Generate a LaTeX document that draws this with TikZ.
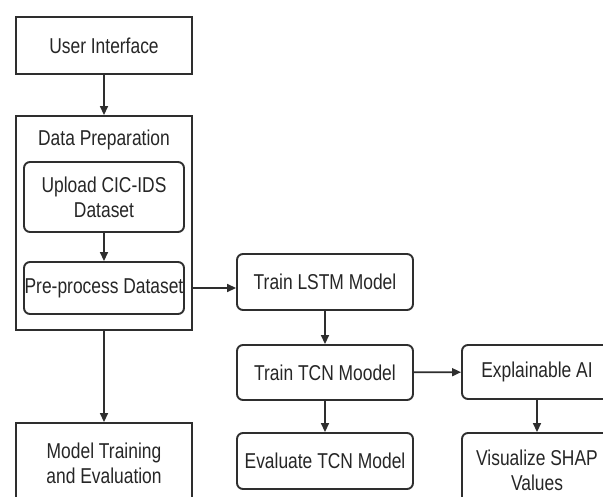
\documentclass[tikz,border=0pt]{standalone}
\usepackage{fontspec}
\setmainfont{Liberation Sans}[FakeStretch=0.81]
\usetikzlibrary{arrows.meta}
\definecolor{ln}{HTML}{2E2E2E}
\definecolor{tx}{HTML}{262626}
\tikzset{
  base/.style={draw=ln, line width=1.9pt, text=tx, align=center, inner sep=0pt,
    font=\fontsize{21.5}{25}\selectfont},
  sqbox/.style={base, rectangle},
  rbox/.style={base, rectangle, rounded corners=6pt},
  conn/.style={draw=ln, line width=1.6pt, -{Triangle[length=9pt,width=8pt]}},
  lbl/.style={text=tx, inner sep=0pt, font=\fontsize{21.5}{25}\selectfont}
}
\begin{document}
\begin{tikzpicture}[x=1pt,y=-1pt]
\useasboundingbox (0,0) rectangle (603,496);
\fill[white] (0,0) rectangle (603,496);
\clip (0,0) rectangle (603,496);
\node[sqbox, minimum width=176pt, minimum height=57pt] (ui) at (104,45.5) {User Interface};
\node[sqbox, minimum width=176pt, minimum height=214pt] (dp) at (104,223) {};
\node[lbl] (dplabel) at (104,140) {Data Preparation};
\node[rbox, minimum width=160pt, minimum height=70pt] (up) at (104,197) {Upload CIC-IDS\\Dataset};
\node[rbox, minimum width=160pt, minimum height=52pt] (pre) at (104,288) {Pre-process Dataset};
\node[sqbox, minimum width=176pt, minimum height=80pt] (mt) at (104,463) {Model Training\\and Evaluation};
\node[rbox, minimum width=176pt, minimum height=56pt] (lstm) at (325,282) {Train LSTM Model};
\node[rbox, minimum width=176pt, minimum height=55pt] (tcn) at (325,372.5) {Train TCN Moodel};
\node[rbox, minimum width=176pt, minimum height=56pt] (eval) at (325,461) {Evaluate TCN Model};
\node[rbox, minimum width=150pt, minimum height=54pt] (xai) at (537,372) {Explainable AI};
\node[rbox, minimum width=150pt, minimum height=74pt] (vis) at (537,470) {Visualize SHAP\\Values};
\coordinate (dpout) at (pre.east -| dp.east);
\draw[conn] (ui) -- (dp);
\draw[conn] (up) -- (pre);
\draw[conn] (dpout) -- (lstm.west |- dpout);
\draw[conn] (dp) -- (mt);
\draw[conn] (lstm) -- (tcn);
\draw[conn] (tcn) -- (eval);
\draw[conn] (tcn) -- (xai);
\draw[conn] (xai) -- (vis);
\end{tikzpicture}
\end{document}
